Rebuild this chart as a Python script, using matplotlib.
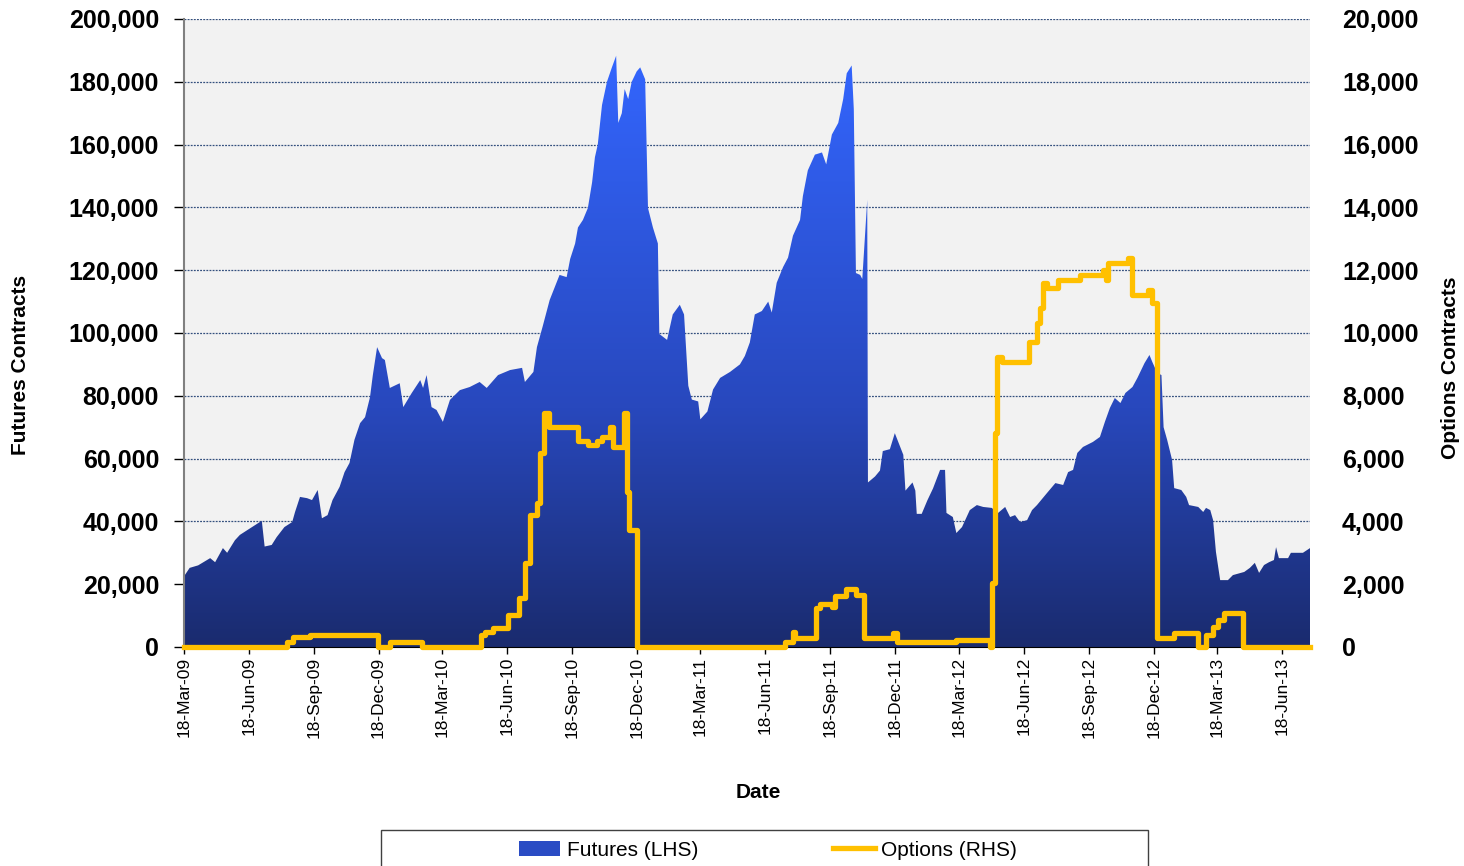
import matplotlib
matplotlib.use('Agg')
import matplotlib.pyplot as plt
import matplotlib.dates as mdates
from matplotlib.colors import LinearSegmentedColormap
from matplotlib.patches import Rectangle, Patch
from matplotlib.lines import Line2D
from matplotlib.ticker import FuncFormatter
import numpy as np
import pandas as pd

plt.rcParams['font.family'] = ['Liberation Sans', 'DejaVu Sans']

# futures open interest (LHS)
fut_dates = [
    '2009-03-18', '2009-03-26', '2009-04-07', '2009-04-24', '2009-05-01', '2009-05-12', '2009-05-18', '2009-05-29', '2009-06-05', '2009-06-16',
    '2009-07-06', '2009-07-10', '2009-07-20', '2009-07-27', '2009-08-07', '2009-08-18', '2009-08-22', '2009-08-29', '2009-09-08', '2009-09-15',
    '2009-09-23', '2009-09-29', '2009-10-07', '2009-10-14', '2009-10-24', '2009-10-31', '2009-11-07', '2009-11-14', '2009-11-22', '2009-11-29',
    '2009-12-06', '2009-12-10', '2009-12-16', '2009-12-23', '2009-12-27', '2010-01-03', '2010-01-17', '2010-01-22', '2010-02-03', '2010-02-15',
    '2010-02-19', '2010-02-24', '2010-03-03', '2010-03-10', '2010-03-19', '2010-03-29', '2010-04-12', '2010-04-26', '2010-05-10', '2010-05-20',
    '2010-06-05', '2010-06-22', '2010-07-09', '2010-07-13', '2010-07-25', '2010-07-30', '2010-08-07', '2010-08-17', '2010-08-31', '2010-09-10',
    '2010-09-15', '2010-09-22', '2010-09-26', '2010-10-03', '2010-10-10', '2010-10-16', '2010-10-20', '2010-10-24', '2010-10-30', '2010-11-06',
    '2010-11-13', '2010-11-19', '2010-11-22', '2010-11-27', '2010-12-01', '2010-12-06', '2010-12-11', '2010-12-18', '2010-12-23', '2010-12-30',
    '2011-01-03', '2011-01-10', '2011-01-17', '2011-01-19', '2011-01-30', '2011-02-07', '2011-02-17', '2011-02-23', '2011-03-01', '2011-03-06',
    '2011-03-15', '2011-03-18', '2011-03-28', '2011-04-05', '2011-04-15', '2011-04-29', '2011-05-13', '2011-05-20', '2011-05-27', '2011-06-03',
    '2011-06-13', '2011-06-22', '2011-06-27', '2011-07-04', '2011-07-13', '2011-07-20', '2011-07-27', '2011-08-06', '2011-08-10', '2011-08-17',
    '2011-08-27', '2011-09-06', '2011-09-12', '2011-09-20', '2011-09-29', '2011-10-06', '2011-10-11', '2011-10-18', '2011-10-21', '2011-10-24',
    '2011-10-30', '2011-11-02', '2011-11-09', '2011-11-10', '2011-11-20', '2011-11-27', '2011-12-01', '2011-12-11', '2011-12-18', '2011-12-30',
    '2012-01-02', '2012-01-12', '2012-01-16', '2012-01-18', '2012-01-25', '2012-02-02', '2012-02-10', '2012-02-20', '2012-02-27', '2012-02-29',
    '2012-03-09', '2012-03-14', '2012-03-22', '2012-04-02', '2012-04-12', '2012-04-21', '2012-05-03', '2012-05-12', '2012-05-22', '2012-05-29',
    '2012-06-05', '2012-06-12', '2012-06-22', '2012-06-29', '2012-07-06', '2012-07-20', '2012-08-01', '2012-08-12', '2012-08-19', '2012-08-26',
    '2012-09-01', '2012-09-09', '2012-09-23', '2012-10-03', '2012-10-10', '2012-10-17', '2012-10-24', '2012-11-01', '2012-11-08', '2012-11-18',
    '2012-11-25', '2012-12-05', '2012-12-12', '2012-12-16', '2012-12-23', '2012-12-29', '2013-01-01', '2013-01-06', '2013-01-13', '2013-01-16',
    '2013-01-26', '2013-02-02', '2013-02-06', '2013-02-19', '2013-02-26', '2013-03-02', '2013-03-08', '2013-03-12', '2013-03-16', '2013-03-22',
    '2013-04-02', '2013-04-09', '2013-04-25', '2013-05-03', '2013-05-10', '2013-05-16', '2013-05-23', '2013-05-30', '2013-06-06', '2013-06-09',
    '2013-06-13', '2013-06-26', '2013-06-30', '2013-07-17', '2013-07-27']
fut_values = [
    22500, 25200, 26000, 28300, 27000, 31500, 30000, 34000, 35700, 37300,
    40200, 32000, 32500, 35000, 38200, 39800, 43000, 47800, 47400, 46800,
    50000, 41000, 42000, 46800, 51000, 55700, 58600, 66000, 71300, 73200,
    79600, 86600, 95500, 92000, 91400, 82500, 84000, 76400, 80900, 85000,
    82500, 86600, 76400, 75500, 71700, 78700, 81800, 82800, 84400, 82500,
    86600, 88200, 88900, 84400, 87600, 95500, 102000, 110500, 118500, 117800,
    123600, 128500, 133600, 136000, 139800, 148000, 156000, 160000, 172600, 180000,
    184600, 188300, 166900, 170000, 177700, 174500, 180000, 183300, 184600, 180800,
    139800, 133600, 128500, 99700, 97800, 105900, 109000, 105900, 83200, 78800,
    78200, 72500, 75000, 82000, 85700, 87600, 90000, 92700, 97000, 105900,
    107000, 110000, 106500, 116000, 121000, 124000, 131000, 136000, 143600, 151800,
    156800, 157500, 153700, 163200, 166900, 174500, 182700, 185200, 171300, 119100,
    118500, 117200, 142400, 52400, 54300, 56200, 62400, 63000, 68100, 61200,
    49800, 52400, 49800, 42400, 42400, 46700, 50500, 56400, 56400, 42700,
    41400, 36300, 38200, 43600, 45200, 44600, 44300, 42700, 44600, 41400,
    42000, 39800, 40400, 43600, 45200, 49000, 52200, 51600, 55700, 56400,
    61800, 63700, 65300, 66900, 71700, 76100, 79300, 77700, 80900, 82800,
    85700, 90400, 93000, 90800, 87300, 86600, 70000, 66000, 59600, 50600,
    50000, 47800, 45200, 44600, 43000, 44300, 43600, 40400, 30300, 21300,
    21300, 22900, 23900, 25200, 26800, 23600, 26100, 27000, 27700, 31800,
    28300, 28300, 30000, 30000, 31500]

# options open interest (RHS), value holds from each date on
opt_dates = [
    '2009-03-18', '2009-08-10', '2009-08-19', '2009-09-12', '2009-12-17', '2010-01-03', '2010-02-18', '2010-05-12', '2010-05-17', '2010-05-29',
    '2010-06-19', '2010-07-05', '2010-07-13', '2010-07-20', '2010-07-30', '2010-08-04', '2010-08-09', '2010-08-16', '2010-09-26', '2010-10-10',
    '2010-10-23', '2010-10-30', '2010-11-10', '2010-11-15', '2010-11-30', '2010-12-04', '2010-12-07', '2010-12-18', '2011-07-16', '2011-07-27',
    '2011-07-30', '2011-08-29', '2011-09-03', '2011-09-20', '2011-09-24', '2011-10-10', '2011-10-24', '2011-11-05', '2011-12-15', '2011-12-21',
    '2012-03-13', '2012-05-01', '2012-05-03', '2012-05-08', '2012-05-11', '2012-05-18', '2012-06-24', '2012-07-06', '2012-07-10', '2012-07-15',
    '2012-07-20', '2012-08-05', '2012-09-05', '2012-10-08', '2012-10-12', '2012-10-15', '2012-11-11', '2012-11-18', '2012-12-10', '2012-12-16',
    '2012-12-22', '2013-01-04', '2013-01-16', '2013-02-19', '2013-03-02', '2013-03-12', '2013-03-19', '2013-03-27', '2013-04-23', '2013-07-27']
opt_values = [
    0, 170, 330, 380, 0, 170, 0, 380, 490, 595,
    1020, 1560, 2675, 4200, 4590, 6180, 7450, 7010, 6560, 6430,
    6560, 6690, 7010, 6370, 7450, 4940, 3730, 0, 170, 480,
    280, 1250, 1370, 1270, 1620, 1850, 1650, 290, 450, 160,
    220, 0, 2040, 6820, 9250, 9090, 9720, 10320, 10800, 11590,
    11430, 11690, 11850, 12010, 11690, 12230, 12390, 11210, 11370, 10960,
    290, 300, 440, 0, 380, 640, 860, 1070, 0, 0]

fut_x = pd.to_datetime(fut_dates)
opt_x = pd.to_datetime(opt_dates)
tick_dates = pd.date_range('2009-03-18', periods=18, freq=pd.DateOffset(months=3))
x_start = pd.Timestamp('2009-03-18')
x_end = pd.Timestamp('2013-07-27')

fig = plt.figure(figsize=(14.64, 8.66), dpi=100)
ax = fig.add_axes([184 / 1464, 1 - 647 / 866, (1310 - 184) / 1464, 628 / 866])
ax.set_facecolor('#f2f2f2')

# gradient area for futures
poly = ax.fill_between(fut_x, fut_values, 0, facecolor='none', edgecolor='none')
cmap = LinearSegmentedColormap.from_list(
    'fut', [(0, '#1a2b6e'), (0.4, '#2848bd'), (1, '#3366ff')])
grad = np.linspace(0, 1, 256).reshape(-1, 1)
x0, x1 = mdates.date2num(x_start), mdates.date2num(x_end)
img = ax.imshow(grad, extent=[x0, x1, 0, 190000], origin='lower', aspect='auto',
                cmap=cmap, zorder=2, interpolation='bilinear')
img.set_clip_path(poly.get_paths()[0], transform=ax.transData)

ax.set_xlim(x_start, x_end)
ax.set_ylim(0, 200000)
ax.set_yticks(np.arange(0, 200001, 20000))
ax.yaxis.set_major_formatter(FuncFormatter(lambda v, p: f'{v:,.0f}'))
ax.yaxis.grid(True, color='#34507e', linestyle=(0, (1.5, 1)), linewidth=0.9)
ax.set_axisbelow(True)

ax.set_xticks(tick_dates)
ax.xaxis.set_major_formatter(mdates.DateFormatter('%d-%b-%y'))
ax.tick_params(axis='x', direction='out', length=5, width=1, pad=2,
               labelsize=12.5, labelrotation=90)
ax.tick_params(axis='y', direction='out', length=7, width=1, pad=11, labelsize=18)
plt.setp(ax.get_yticklabels(), fontweight='bold')

ax.spines['top'].set_visible(False)
ax.spines['right'].set_visible(False)
ax.spines['left'].set_color('#808080')
ax.spines['left'].set_linewidth(1.5)
ax.spines['bottom'].set_color('black')

# options line on the right axis
ax2 = ax.twinx()
ax2.step(opt_x, opt_values, where='post', color='#ffc000', lw=3.8, clip_on=False, zorder=3)
ax2.set_ylim(0, 20000)
ax2.set_xlim(x_start, x_end)
ax2.set_yticks(np.arange(0, 20001, 2000))
ax2.yaxis.set_major_formatter(FuncFormatter(lambda v, p: f'{v:,.0f}'))
ax2.tick_params(axis='y', length=0, pad=23, labelsize=18)
plt.setp(ax2.get_yticklabels(), fontweight='bold')
for s in ax2.spines.values():
    s.set_visible(False)

fig.text(21 / 1464, 1 - 365 / 866, 'Futures Contracts', rotation=90, ha='center', va='center',
         fontsize=15, fontweight='bold')
fig.text(1450 / 1464, 1 - 368 / 866, 'Options Contracts', rotation=90, ha='center', va='center',
         fontsize=15, fontweight='bold')
fig.text(758 / 1464, 1 - 793 / 866, 'Date', ha='center', va='center', fontsize=15, fontweight='bold')

# legend with its own box
fig.add_artist(Rectangle((381 / 1464, -0.02), 767 / 1464, 36 / 866 + 0.02, transform=fig.transFigure,
                         fill=False, edgecolor='#404040', lw=1))
handles = [Patch(facecolor='#2a4cc4', edgecolor='none'),
           Line2D([], [], color='#ffc000', lw=3.8)]
fig.legend(handles, ['Futures (LHS)', 'Options (RHS)'], loc='center',
           bbox_to_anchor=(768 / 1464, 1 - 850 / 866), ncol=2, frameon=False, fontsize=15,
           handlelength=2.0, handletextpad=0.3, columnspacing=6.5)

fig.savefig('out.png', dpi=100)
